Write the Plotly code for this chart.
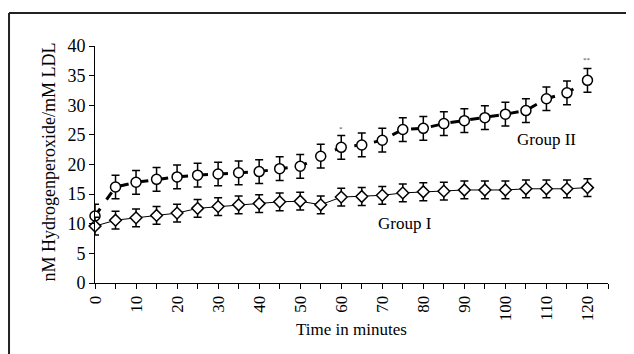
import plotly.graph_objects as go

time_min = [0, 5, 10, 15, 20, 25, 30, 35, 40, 45, 50, 55, 60, 65, 70, 75, 80, 85, 90, 95, 100, 105, 110, 115, 120]
group2 = [11.3, 16.2, 17.0, 17.5, 17.9, 18.2, 18.4, 18.6, 18.8, 19.3, 19.7, 21.4, 22.9, 23.3, 24.1, 25.9, 26.1, 26.9, 27.4, 27.9, 28.5, 29.1, 31.1, 32.1, 34.2]
group2_err = [2.0] * 25
group1 = [9.6, 10.6, 11.0, 11.4, 11.8, 12.6, 12.9, 13.2, 13.4, 13.7, 13.8, 13.2, 14.5, 14.6, 14.8, 15.2, 15.4, 15.5, 15.7, 15.7, 15.7, 15.9, 15.9, 15.9, 16.1]
group1_err = [1.5] * 25
x_ticks = [0, 10, 20, 30, 40, 50, 60, 70, 80, 90, 100, 110, 120]
y_ticks = [0, 5, 10, 15, 20, 25, 30, 35, 40]

FONT = "Liberation Serif, Times New Roman, serif"

fig = go.Figure()
fig.add_trace(go.Scatter(
    x=time_min, y=group2, mode="lines+markers", name="Group II",
    line=dict(color="black", width=3, dash="9px,11px"),
    marker=dict(symbol="circle", size=10, color="white", line=dict(color="black", width=1.5)),
    error_y=dict(type="data", array=group2_err, color="black", thickness=1.5, width=4),
    cliponaxis=False,
))
fig.add_trace(go.Scatter(
    x=time_min, y=group1, mode="lines+markers", name="Group I",
    line=dict(color="black", width=1),
    marker=dict(symbol="diamond", size=9, color="white", line=dict(color="black", width=1.5)),
    error_y=dict(type="data", array=group1_err, color="black", thickness=1.5, width=4),
    cliponaxis=False,
))

fig.add_annotation(x=60, y=26.0, text="*", showarrow=False, font=dict(family=FONT, size=7, color="#444"))
fig.add_annotation(x=120, y=37.6, text="**", showarrow=False, font=dict(family=FONT, size=7, color="#444"))
fig.add_annotation(x=110, y=24.2, text="Group II", showarrow=False, font=dict(family=FONT, size=17, color="black"))
fig.add_annotation(x=75.5, y=10.1, text="Group I", showarrow=False, font=dict(family=FONT, size=17, color="black"))
fig.add_annotation(xref="paper", yref="paper", x=-0.0906, y=0.5105, text="nM Hydrogenperoxide/mM LDL",
                   textangle=-90, showarrow=False, xanchor="center", yanchor="middle",
                   font=dict(family=FONT, size=18, color="black"))

# outer frame (left and top edges visible)
fig.add_shape(type="line", xref="paper", yref="paper", x0=-0.1676, y0=1.139, x1=1.1, y1=1.139,
              line=dict(color="#222", width=2))
fig.add_shape(type="line", xref="paper", yref="paper", x0=-0.1676, y0=1.139, x1=-0.1676, y1=-0.4,
              line=dict(color="#222", width=2))

fig.update_layout(
    width=634, height=354,
    margin=dict(l=87, r=34, t=38, b=79),
    plot_bgcolor="white", paper_bgcolor="white",
    showlegend=False,
    font=dict(family=FONT, size=16, color="black"),
)
fig.update_xaxes(
    range=[0, 125], tickvals=x_ticks, tickangle=-90, automargin=False,
    ticks="outside", ticklen=5, tickwidth=1, tickcolor="black",
    minor=dict(dtick=5, ticks="outside", ticklen=5, tickcolor="black", tickwidth=1),
    showline=True, linecolor="black", linewidth=1, showgrid=False, zeroline=False,
    title=dict(text="Time in minutes", font=dict(family=FONT, size=17), standoff=2),
    tickfont=dict(family=FONT, size=17),
)
fig.update_yaxes(
    range=[0, 40], tickvals=y_ticks, automargin=False,
    ticks="outside", ticklen=5, tickwidth=1, tickcolor="black",
    showline=True, linecolor="black", linewidth=1, showgrid=False, zeroline=False,
    tickfont=dict(family=FONT, size=18),
)

fig.write_html("out.html")
